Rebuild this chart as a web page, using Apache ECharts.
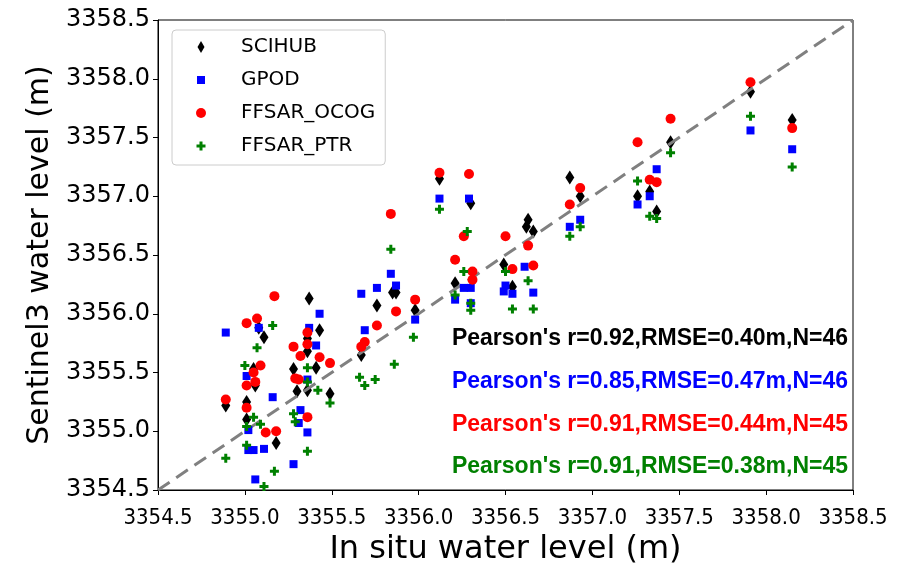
<!DOCTYPE html>
<html>
<head>
<meta charset="utf-8">
<script src="https://cdn.jsdelivr.net/npm/echarts@6.0.0/dist/echarts.min.js"></script>
<style>
  html, body { margin: 0; padding: 0; background: #fff; }
  #chart { width: 907px; height: 566px; }
</style>
</head>
<body>
<div id="chart"></div>
<script>
// axis range shared by both axes and the 1:1 line
const axisMin = 3354.5;
const axisMax = 3358.5;
const tickStep = 0.5;
const oneToOne = [[axisMin, axisMin], [axisMax, axisMax]];

const seriesNames = ["SCIHUB", "GPOD", "FFSAR_OCOG", "FFSAR_PTR"];

// [in situ, sentinel3] pairs
const scihub = [
  [3354.89, 3355.22], [3355.01, 3355.25], [3355.01, 3355.10], [3355.06, 3355.39],
  [3355.05, 3355.53], [3355.08, 3355.88], [3355.11, 3355.80], [3355.18, 3354.90],
  [3355.28, 3355.53], [3355.30, 3355.34], [3355.36, 3355.35], [3355.37, 3356.13],
  [3355.36, 3355.79], [3355.36, 3355.68], [3355.41, 3355.54], [3355.43, 3355.86],
  [3355.49, 3355.32], [3355.67, 3355.65], [3355.76, 3356.07], [3355.85, 3356.18],
  [3355.87, 3356.18], [3355.98, 3356.03], [3356.12, 3357.15], [3356.21, 3356.26],
  [3356.30, 3356.94], [3356.49, 3356.42], [3356.54, 3356.23], [3356.62, 3356.74],
  [3356.63, 3356.80], [3356.66, 3356.70], [3356.87, 3357.16], [3356.93, 3357.00],
  [3357.26, 3357.00], [3357.33, 3357.04], [3357.37, 3356.87], [3357.45, 3357.46],
  [3357.91, 3357.89], [3358.15, 3357.65]
];
const gpod = [
  [3354.89, 3355.84], [3355.08, 3355.88], [3355.01, 3355.47], [3355.02, 3355.01],
  [3355.02, 3354.84], [3355.05, 3354.84], [3355.11, 3354.85], [3355.06, 3354.59],
  [3355.16, 3355.29], [3355.28, 3354.72], [3355.31, 3355.07], [3355.32, 3355.18],
  [3355.36, 3354.99], [3355.36, 3355.44], [3355.37, 3355.88], [3355.41, 3355.73],
  [3355.43, 3356.00], [3355.67, 3356.17], [3355.69, 3355.86], [3355.76, 3356.22],
  [3355.84, 3356.34], [3355.87, 3356.24], [3355.98, 3355.95], [3356.12, 3356.98],
  [3356.21, 3356.12], [3356.26, 3356.22], [3356.30, 3356.22], [3356.30, 3356.09],
  [3356.29, 3356.98], [3356.49, 3356.19], [3356.50, 3356.24], [3356.54, 3356.17],
  [3356.61, 3356.40], [3356.66, 3356.18], [3356.87, 3356.74], [3356.93, 3356.80],
  [3357.26, 3356.93], [3357.33, 3357.00], [3357.37, 3357.23], [3357.91, 3357.56],
  [3358.15, 3357.40]
];
const ocog = [
  [3354.89, 3355.27], [3355.01, 3355.20], [3355.01, 3355.39], [3355.06, 3355.42],
  [3355.05, 3355.50], [3355.09, 3355.56], [3355.01, 3355.92], [3355.07, 3355.96],
  [3355.17, 3356.15], [3355.12, 3354.99], [3355.18, 3355.00], [3355.28, 3355.72],
  [3355.29, 3355.45], [3355.31, 3355.44], [3355.32, 3355.64], [3355.36, 3355.74],
  [3355.36, 3355.84], [3355.36, 3355.12], [3355.43, 3355.63], [3355.49, 3355.58],
  [3355.67, 3355.72], [3355.69, 3355.76], [3355.76, 3355.90], [3355.87, 3356.02],
  [3355.98, 3356.12], [3355.84, 3356.85], [3356.12, 3357.20], [3356.21, 3356.46],
  [3356.26, 3356.66], [3356.29, 3357.19], [3356.31, 3356.36], [3356.31, 3356.29],
  [3356.50, 3356.66], [3356.54, 3356.38], [3356.63, 3356.58], [3356.66, 3356.41],
  [3356.87, 3356.93], [3356.93, 3357.07], [3357.26, 3357.46], [3357.33, 3357.14],
  [3357.37, 3357.12], [3357.45, 3357.66], [3357.91, 3357.97], [3358.15, 3357.58]
];
const ptr = [
  [3354.89, 3354.77], [3355.01, 3355.04], [3355.01, 3354.88], [3355.00, 3355.56],
  [3355.05, 3355.12], [3355.07, 3355.71], [3355.09, 3355.06], [3355.16, 3355.90],
  [3355.11, 3354.53], [3355.17, 3354.66], [3355.28, 3355.15], [3355.29, 3355.08],
  [3355.36, 3355.54], [3355.36, 3355.42], [3355.36, 3354.83], [3355.42, 3355.35],
  [3355.49, 3355.24], [3355.66, 3355.46], [3355.69, 3355.39], [3355.75, 3355.44],
  [3355.84, 3356.55], [3355.86, 3355.57], [3355.97, 3355.80], [3356.12, 3356.89],
  [3356.21, 3356.16], [3356.28, 3356.70], [3356.26, 3356.36], [3356.30, 3356.09],
  [3356.30, 3356.03], [3356.50, 3356.36], [3356.54, 3356.04], [3356.63, 3356.28],
  [3356.66, 3356.04], [3356.87, 3356.66], [3356.93, 3356.74], [3357.26, 3357.13],
  [3357.33, 3356.83], [3357.37, 3356.81], [3357.45, 3357.37], [3357.91, 3357.68],
  [3358.15, 3357.25]
];

const statsLines = [
  "Pearson's r=0.92,RMSE=0.40m,N=46",
  "Pearson's r=0.85,RMSE=0.47m,N=46",
  "Pearson's r=0.91,RMSE=0.44m,N=45",
  "Pearson's r=0.91,RMSE=0.38m,N=45"
];

const colors = ["#000000", "#0000ff", "#ff0000", "#008000"];

// marker shapes on the plot
const diamondPath = "path://M5,0L10,8L5,16L0,8Z";
const plusPath = "path://M3,0H6V3H9V6H6V9H3V6H0V3H3Z";

// legend icons, padded inside a 20x20 box so each keeps its own size
const legendIcons = [
  "path://M0,0M20,20M10,4L13.5,10L10,16L6.5,10Z",
  "path://M0,0M20,20M6,6H14V14H6Z",
  "path://M0,0M20,20M5,10A5,5,0,1,1,15,10A5,5,0,1,1,5,10Z",
  "path://M0,0M20,20M8.5,5.5H11.5V8.5H14.5V11.5H11.5V14.5H8.5V11.5H5.5V8.5H8.5Z"
];

const chart = echarts.init(document.getElementById("chart"));

const option = {
  animation: false,
  backgroundColor: "#fff",
  grid: {
    left: 158,
    right: 54,
    top: 20,
    bottom: 76,
    show: true,
    borderColor: "#000",
    borderWidth: 1,
    containLabel: false,
    outerBoundsMode: "none"
  },
  legend: {
    orient: "vertical",
    left: 172,
    top: 30,
    padding: [7, 10, 9, 19],
    itemWidth: 20,
    itemHeight: 20,
    itemGap: 13,
    borderColor: "#cccccc",
    borderWidth: 1,
    borderRadius: 4,
    backgroundColor: "rgba(255,255,255,0.8)",
    textStyle: {
      fontFamily: "DejaVu Sans",
      fontSize: 20,
      color: "#000",
      padding: [0, 0, 0, 25]
    },
    data: seriesNames.map((name, i) => ({ name: name, icon: legendIcons[i] }))
  },
  xAxis: {
    type: "value",
    min: axisMin,
    max: axisMax,
    interval: tickStep,
    name: "In situ water level (m)",
    nameLocation: "middle",
    nameGap: 43,
    nameTextStyle: { fontFamily: "DejaVu Sans", fontSize: 32, color: "#000" },
    axisLine: { show: true, onZero: false, lineStyle: { color: "#000", width: 1 } },
    axisTick: { show: true, length: 5, lineStyle: { color: "#000" } },
    splitLine: { show: false },
    axisLabel: {
      color: "#000",
      fontFamily: "'DejaVu Sans Condensed', 'DejaVu Sans'",
      fontSize: 22,
      margin: 17,
      formatter: (v) => v.toFixed(1)
    }
  },
  yAxis: {
    type: "value",
    min: axisMin,
    max: axisMax,
    interval: tickStep,
    name: "Sentinel3 water level (m)",
    nameLocation: "middle",
    nameGap: 101,
    nameTextStyle: { fontFamily: "DejaVu Sans", fontSize: 30, color: "#000" },
    axisLine: { show: true, onZero: false, lineStyle: { color: "#000", width: 1 } },
    axisTick: { show: true, length: 5, lineStyle: { color: "#000" } },
    splitLine: { show: false },
    axisLabel: {
      color: "#000",
      fontFamily: "DejaVu Sans",
      fontSize: 24,
      margin: 8,
      formatter: (v) => v.toFixed(1)
    }
  },
  series: [
    {
      name: seriesNames[0],
      type: "scatter",
      data: scihub,
      symbol: diamondPath,
      symbolSize: [9, 14],
      symbolKeepAspect: false,
      itemStyle: { color: colors[0], opacity: 1 },
      z: 2
    },
    {
      name: "1:1",
      type: "line",
      data: oneToOne,
      symbol: "none",
      silent: true,
      lineStyle: { color: "#808080", width: 3, type: [14, 8] },
      z: 3
    },
    {
      name: seriesNames[1],
      type: "scatter",
      data: gpod,
      symbol: "rect",
      symbolSize: 8,
      itemStyle: { color: colors[1], opacity: 1 },
      z: 4
    },
    {
      name: seriesNames[2],
      type: "scatter",
      data: ocog,
      symbol: "circle",
      symbolSize: 10,
      itemStyle: { color: colors[2], opacity: 1 },
      z: 5
    },
    {
      name: seriesNames[3],
      type: "scatter",
      data: ptr,
      symbol: plusPath,
      symbolSize: 9,
      itemStyle: { color: colors[3], opacity: 1 },
      z: 6
    }
  ],
  graphic: statsLines.map((line, i) => ({
    type: "text",
    x: 848,
    y: 339 + i * 42.7,
    z: 10,
    style: {
      text: line,
      fill: colors[i],
      fontFamily: "Liberation Sans",
      fontWeight: "bold",
      fontSize: 23,
      align: "right",
      verticalAlign: "middle"
    }
  }))
};

chart.setOption(option);
</script>
</body>
</html>
